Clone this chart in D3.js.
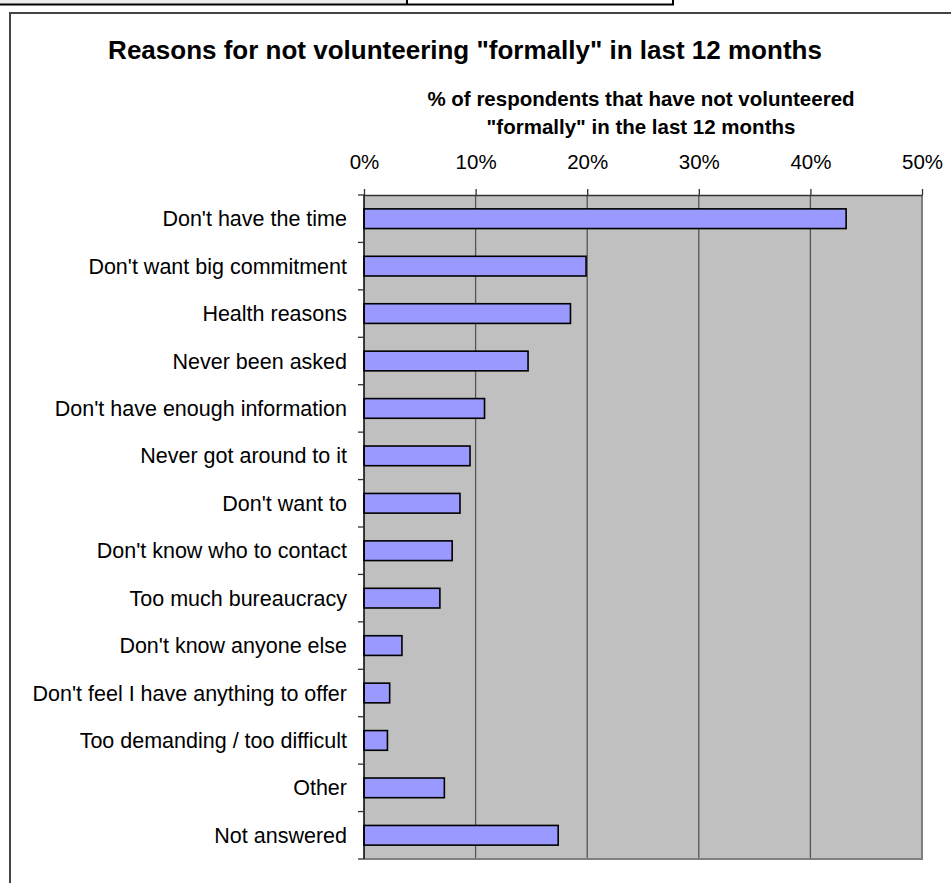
<!DOCTYPE html>
<html>
<head>
<meta charset="utf-8">
<script src="https://cdn.jsdelivr.net/npm/d3@7"></script>
<style>
  html, body { margin: 0; padding: 0; background: #ffffff; }
  svg { display: block; font-family: Arial, "Liberation Sans", sans-serif; }
</style>
</head>
<body>
<script>
const categories = [
  "Don't have the time",
  "Don't want big commitment",
  "Health reasons",
  "Never been asked",
  "Don't have enough information",
  "Never got around to it",
  "Don't want to",
  "Don't know who to contact",
  "Too much bureaucracy",
  "Don't know anyone else",
  "Don't feel I have anything to offer",
  "Too demanding / too difficult",
  "Other",
  "Not answered"
];
const values = [0.432, 0.199, 0.185, 0.147, 0.108, 0.095, 0.086, 0.079, 0.068, 0.034, 0.023, 0.021, 0.072, 0.174];
const xTicks = [0, 0.1, 0.2, 0.3, 0.4, 0.5];
const titleText = "Reasons for not volunteering \"formally\" in last 12 months";
const axisTitleLines = ["% of respondents that have not volunteered", "\"formally\" in the last 12 months"];

const W = 951, H = 883;
const svg = d3.select("body").append("svg").attr("width", W).attr("height", H);

// top table remnant
svg.append("rect").attr("x", 0).attr("y", 0).attr("width", 407).attr("height", 4).attr("fill", "#ececec");
svg.append("line").attr("x1", 0).attr("x2", 674).attr("y1", 4.5).attr("y2", 4.5).attr("stroke", "#000").attr("stroke-width", 2);
svg.append("line").attr("x1", 407).attr("x2", 407).attr("y1", 0).attr("y2", 5).attr("stroke", "#000").attr("stroke-width", 2);
svg.append("line").attr("x1", 673).attr("x2", 673).attr("y1", 0).attr("y2", 5).attr("stroke", "#000").attr("stroke-width", 2);

// chart frame
svg.append("rect").attr("x", 10).attr("y", 13).attr("width", 1000).attr("height", 1000)
  .attr("fill", "#ffffff").attr("stroke", "#444").attr("stroke-width", 2);

const x = d3.scaleLinear().domain([0, 0.5]).range([364, 922]);
const y = d3.scaleBand().domain(categories).range([195, 859]).paddingInner(0.585).paddingOuter(0.2925);

// plot area
svg.append("rect").attr("x", x(0)).attr("y", 195).attr("width", x(0.5) - x(0)).attr("height", 859 - 195)
  .attr("fill", "#c0c0c0");

// gridlines
svg.append("g").selectAll("line").data(xTicks.slice(1, -1)).join("line")
  .attr("x1", d => x(d)).attr("x2", d => x(d)).attr("y1", 195).attr("y2", 859)
  .attr("stroke", "#555").attr("stroke-width", 1.3);

// plot border right and bottom
svg.append("path")
  .attr("d", `M${x(0.5)},195 V859 H${x(0)}`)
  .attr("fill", "none").attr("stroke", "#808080").attr("stroke-width", 2);

// bars
svg.append("g").selectAll("rect").data(categories).join("rect")
  .attr("x", x(0)).attr("y", d => y(d))
  .attr("width", (d, i) => x(values[i]) - x(0))
  .attr("height", y.bandwidth())
  .attr("fill", "#9999ff").attr("stroke", "#000").attr("stroke-width", 1.6);

// top axis
const xAxis = d3.axisTop(x).tickValues(xTicks).tickFormat(d3.format(".0%")).tickSize(6).tickSizeOuter(0).tickPadding(20);
const gx = svg.append("g").attr("transform", "translate(0,195)").call(xAxis);
gx.select(".domain").attr("stroke", "#333").attr("stroke-width", 1.5);
gx.selectAll(".tick line").attr("stroke", "#333").attr("stroke-width", 1.3);
gx.selectAll(".tick text").attr("font-size", 20.5).attr("fill", "#000").attr("font-family", "Arial, 'Liberation Sans', sans-serif");

// left axis line and boundary ticks
svg.append("line").attr("x1", x(0)).attr("x2", x(0)).attr("y1", 195).attr("y2", 859).attr("stroke", "#000").attr("stroke-width", 1.5);
const step = y.step();
const bounds = d3.range(categories.length + 1).map(i => 195 + i * step);
svg.append("g").selectAll("line").data(bounds).join("line")
  .attr("x1", x(0) - 6).attr("x2", x(0)).attr("y1", d => d).attr("y2", d => d)
  .attr("stroke", "#333").attr("stroke-width", 1.3);

// category labels
svg.append("g").selectAll("text").data(categories).join("text")
  .attr("x", 347).attr("y", d => y(d) + y.bandwidth() / 2)
  .attr("dy", "0.35em").attr("text-anchor", "end")
  .attr("font-size", 21.5).attr("fill", "#000")
  .text(d => d);

// titles
svg.append("text").attr("x", 465).attr("y", 59).attr("text-anchor", "middle")
  .attr("font-size", 26).attr("font-weight", "bold").attr("fill", "#000").text(titleText);
svg.append("g").selectAll("text").data(axisTitleLines).join("text")
  .attr("x", 641).attr("y", (d, i) => 106 + i * 28).attr("text-anchor", "middle")
  .attr("font-size", 20.5).attr("font-weight", "bold").attr("fill", "#000").text(d => d);
</script>
</body>
</html>
